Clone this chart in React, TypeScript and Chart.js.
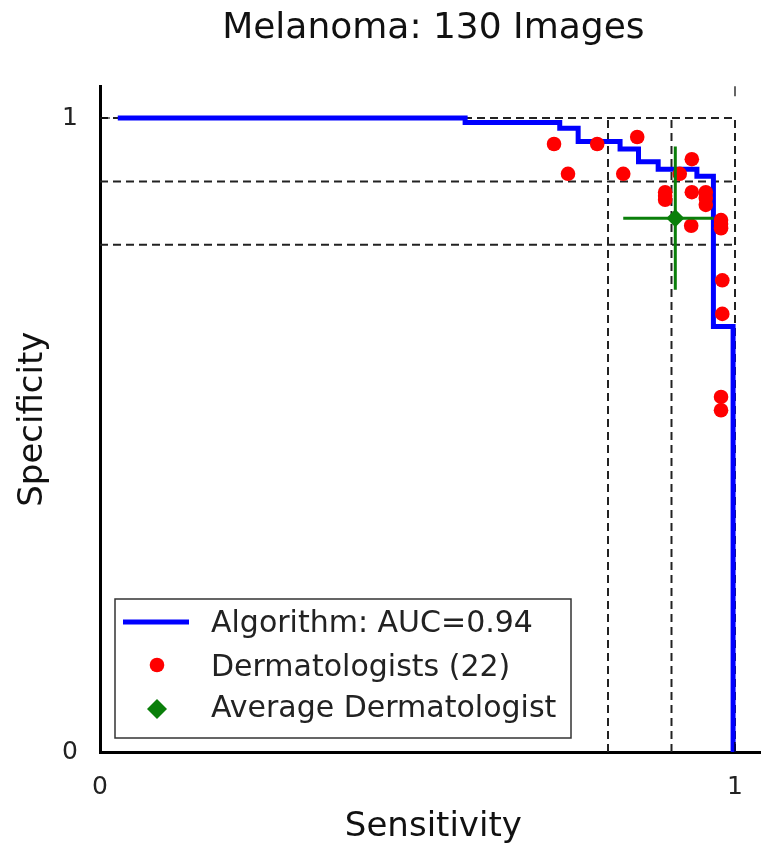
import React, { useEffect, useRef } from "react";
import { Chart, registerables } from "chart.js";

Chart.register(...registerables);

const chartTitle = "Melanoma: 130 Images";
const xAxisTitle = "Sensitivity";
const yAxisTitle = "Specificity";
const tickValues = [0, 1];
const referenceLevels = [0.8, 0.9, 1.0];

const algorithmLabel = "Algorithm: AUC=0.94";
const rocSensitivity = [0.028, 0.575, 0.724, 0.753, 0.819, 0.848, 0.879, 0.94, 0.966, 0.997];
const rocSpecificity = [1.0, 0.993, 0.984, 0.963, 0.951, 0.931, 0.919, 0.908, 0.671, 0.0];

const dermatologistLabel = "Dermatologists (22)";
const dermSensitivity = [
  0.715, 0.783, 0.846, 0.737, 0.824, 0.932, 0.913, 0.89, 0.89, 0.932, 0.954,
  0.954, 0.978, 0.978, 0.931, 0.98, 0.98, 0.978, 0.978, 0.954, 0.89, 0.978,
];
const dermSpecificity = [
  0.959, 0.959, 0.97, 0.912, 0.912, 0.935, 0.912, 0.883, 0.871, 0.883, 0.883,
  0.863, 0.839, 0.826, 0.83, 0.744, 0.691, 0.56, 0.539, 0.874, 0.877, 0.833,
];

const averageLabel = "Average Dermatologist";
const averageSensitivity = [0.906];
const averageSpecificity = [0.842];
const averageSensitivityRange = [0.824, 0.966];
const averageSpecificityRange = [0.729, 0.955];

const BLUE = "#0000ff";
const RED = "#ff0000";
const GREEN = "#0a7f0a";
const FONT = "'DejaVu Sans', sans-serif";

const legendPlugin = {
  id: "insideLegend",
  afterDraw(chart: any) {
    const { ctx, chartArea } = chart;
    const x0 = chartArea.left + 15;
    const h = 139;
    const y0 = chartArea.bottom - 14 - h;
    const w = 456;
    ctx.save();
    ctx.fillStyle = "#ffffff";
    ctx.fillRect(x0, y0, w, h);
    ctx.strokeStyle = "#333333";
    ctx.lineWidth = 1.5;
    ctx.strokeRect(x0, y0, w, h);
    const ds = chart.data.datasets;
    const items = [ds[0], ds[1], ds[2]];
    const markerY = [23, 66, 110];
    const textY = [33, 77, 118];
    ctx.font = `30px ${FONT}`;
    ctx.textAlign = "left";
    ctx.textBaseline = "alphabetic";
    items.forEach((d: any, i: number) => {
      const my = y0 + markerY[i];
      const mx = x0 + 42;
      if (i === 0) {
        ctx.strokeStyle = d.borderColor;
        ctx.lineWidth = d.borderWidth;
        ctx.beginPath();
        ctx.moveTo(x0 + 8, my);
        ctx.lineTo(x0 + 74, my);
        ctx.stroke();
      } else if (i === 1) {
        ctx.fillStyle = d.backgroundColor;
        ctx.beginPath();
        ctx.arc(mx, my, 7.3, 0, Math.PI * 2);
        ctx.fill();
      } else {
        ctx.fillStyle = d.backgroundColor;
        ctx.beginPath();
        ctx.moveTo(mx, my - 10);
        ctx.lineTo(mx + 10, my);
        ctx.lineTo(mx, my + 10);
        ctx.lineTo(mx - 10, my);
        ctx.closePath();
        ctx.fill();
      }
      ctx.fillStyle = "#222222";
      ctx.fillText(d.label, x0 + 96, y0 + textY[i]);
    });
    ctx.restore();
  },
};

const tickMarkPlugin = {
  id: "inwardTicks",
  afterDraw(chart: any) {
    const { ctx, chartArea, scales } = chart;
    ctx.save();
    ctx.strokeStyle = "#000000";
    ctx.lineWidth = 1.2;
    ctx.beginPath();
    tickValues.forEach((v) => {
      const py = scales.y.getPixelForValue(v);
      ctx.moveTo(chartArea.left, py);
      ctx.lineTo(chartArea.left + 10, py);
      const px = scales.x.getPixelForValue(v);
      ctx.moveTo(px, chartArea.bottom);
      ctx.lineTo(px, chartArea.bottom - 10);
      ctx.moveTo(px, chartArea.top);
      ctx.lineTo(px, chartArea.top + 10);
    });
    ctx.stroke();
    ctx.restore();
  },
};

export default function App() {
  const canvasRef = useRef<HTMLCanvasElement | null>(null);

  useEffect(() => {
    if (!canvasRef.current) return;
    Chart.defaults.font.family = FONT;

    const refDatasets: any[] = [];
    referenceLevels.forEach((lvl) => {
      refDatasets.push({
        label: "ref-v",
        type: "line",
        data: [
          { x: lvl, y: 0 },
          { x: lvl, y: 1 },
        ],
        borderColor: "#222222",
        borderWidth: 2,
        borderDash: [8, 5],
        pointRadius: 0,
        showLine: true,
        order: 5,
      });
      refDatasets.push({
        label: "ref-h",
        type: "line",
        data: [
          { x: 0, y: lvl },
          { x: 1, y: lvl },
        ],
        borderColor: "#222222",
        borderWidth: 2,
        borderDash: [8, 5],
        pointRadius: 0,
        showLine: true,
        order: 5,
      });
    });

    const chart = new Chart(canvasRef.current, {
      type: "scatter",
      data: {
        datasets: [
          {
            label: algorithmLabel,
            type: "line",
            data: rocSensitivity.map((x, i) => ({ x, y: rocSpecificity[i] })),
            borderColor: BLUE,
            backgroundColor: BLUE,
            borderWidth: 5,
            pointRadius: 0,
            stepped: "before",
            showLine: true,
            order: 3,
          },
          {
            label: dermatologistLabel,
            data: dermSensitivity.map((x, i) => ({ x, y: dermSpecificity[i] })),
            backgroundColor: RED,
            borderColor: RED,
            borderWidth: 0,
            pointRadius: 7.3,
            order: 2,
          },
          {
            label: averageLabel,
            data: averageSensitivity.map((x, i) => ({ x, y: averageSpecificity[i] })),
            backgroundColor: GREEN,
            borderColor: GREEN,
            borderWidth: 0,
            pointStyle: "rectRot",
            pointRadius: 9,
            order: 0,
          },
          {
            label: "avg-x-err",
            type: "line",
            data: averageSensitivityRange.map((x) => ({ x, y: averageSpecificity[0] })),
            borderColor: GREEN,
            borderWidth: 3,
            pointRadius: 0,
            showLine: true,
            order: 1,
          },
          {
            label: "avg-y-err",
            type: "line",
            data: averageSpecificityRange.map((y) => ({ x: averageSensitivity[0], y })),
            borderColor: GREEN,
            borderWidth: 3,
            pointRadius: 0,
            showLine: true,
            order: 1,
          },
          ...refDatasets,
        ],
      } as any,
      options: {
        animation: false,
        responsive: false,
        devicePixelRatio: 1,
        layout: { padding: { left: 0, right: 13.25, top: 0, bottom: 0 } },
        plugins: {
          legend: { display: false },
          tooltip: { enabled: false },
          title: {
            display: true,
            text: chartTitle,
            fullSize: false,
            color: "#111111",
            font: { size: 36, weight: "normal", family: FONT },
            padding: { top: 7.5, bottom: 35.6 },
          },
        },
        scales: {
          x: {
            type: "linear",
            min: 0,
            max: 1.05,
            grid: { display: false, drawTicks: false },
            border: { display: true, color: "#000000", width: 3 },
            afterBuildTicks: (s: any) => {
              s.ticks = tickValues.map((v) => ({ value: v }));
            },
            afterFit: (s: any) => {
              s.height = 97;
            },
            ticks: {
              padding: 20,
              color: "#222222",
              font: { size: 25, family: FONT },
              callback: (v: any) => String(v),
              maxRotation: 0,
            },
            title: {
              display: true,
              text: xAxisTitle,
              color: "#111111",
              font: { size: 34, family: FONT },
              padding: { top: 0, bottom: 1.6 },
            },
          },
          y: {
            type: "linear",
            min: 0,
            max: 1.05,
            grid: { display: false, drawTicks: false },
            border: { display: true, color: "#000000", width: 3 },
            afterBuildTicks: (s: any) => {
              s.ticks = tickValues.map((v) => ({ value: v }));
            },
            afterFit: (s: any) => {
              s.width = 100;
            },
            ticks: {
              padding: 22,
              color: "#222222",
              font: { size: 25, family: FONT },
              callback: (v: any) => String(v),
            },
            title: {
              display: true,
              text: yAxisTitle,
              color: "#111111",
              font: { size: 34, family: FONT },
              padding: { top: 12.6, bottom: 0 },
            },
          },
        },
      } as any,
      plugins: [tickMarkPlugin, legendPlugin],
    });

    return () => {
      chart.destroy();
    };
  }, []);

  return (
    <div
      style={{
        position: "absolute",
        left: 0,
        top: 0,
        width: 761,
        height: 849,
        overflow: "hidden",
        background: "#ffffff",
      }}
    >
      <canvas
        ref={canvasRef}
        width={780}
        height={849}
        style={{ display: "block", width: 780, height: 849 }}
      />
    </div>
  );
}
